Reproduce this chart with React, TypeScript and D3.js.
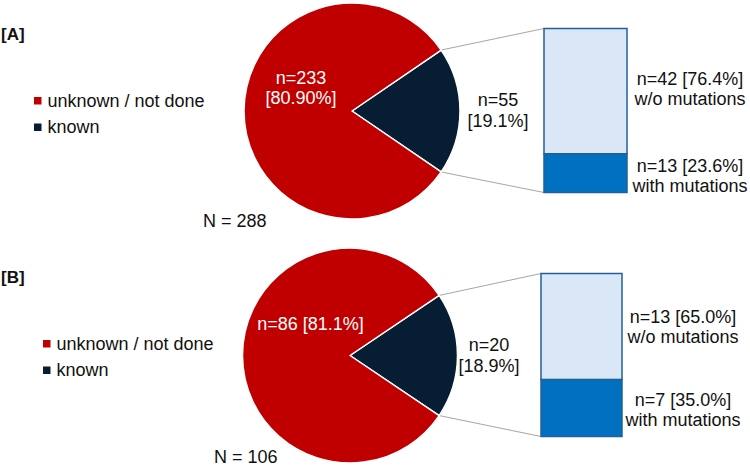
import React from "react";
import * as d3 from "d3";

// counts per panel
const panels = ["[A]", "[B]"];
const unknownN = [233, 86];
const knownN = [55, 20];
const withoutMut = [42, 13];
const withMut = [13, 7];
const unknownLabel = [["n=233", "[80.90%]"], ["n=86 [81.1%]"]];
const knownLabel = [["n=55", "[19.1%]"], ["n=20", "[18.9%]"]];
const withoutLabel = [["n=42 [76.4%]", "w/o mutations"], ["n=13 [65.0%]", "w/o mutations"]];
const withLabel = [["n=13 [23.6%]", "with mutations"], ["n=7 [35.0%]", "with mutations"]];
const totals = ["N = 288", "N = 106"];
const legendNames = ["unknown / not done", "known"];

const RED = "#C00000";
const NAVY = "#061D34";
const LIGHT = "#DAE7F6";
const BLUE = "#0070C0";
const EDGE = "#22609C";

// per-panel placement
const layout = [
  { cx: 352, cy: 111, r: 108, barX: 544, barW: 83, barTop: 28.5, barBot: 192.5, labX: 690, knownX: 498,
    unkX: 301, unkY: 83.5, totX: 203, totY: 227, legX: 34, legY: 106.5, tagY: 40, wOff: -6, mOff: -1 },
  { cx: 350, cy: 355.5, r: 107.5, barX: 541, barW: 81, barTop: 273.5, barBot: 436.5, labX: 683, knownX: 489,
    unkX: 310.5, unkY: 330, totX: 214, totY: 463, legX: 43, legY: 349.5, tagY: 283, wOff: -3, mOff: -1.5 },
];

const font = "'Liberation Sans', Arial, sans-serif";

function Panel({ i }: { i: number }) {
  const L = layout[i];
  const total = unknownN[i] + knownN[i];
  const f = knownN[i] / total;
  // known slice is centred on 3 o'clock
  const start = Math.PI / 2 - Math.PI * f;
  const pie = d3.pie<number>().sort(null).startAngle(start).endAngle(start + 2 * Math.PI);
  const arcs = pie([knownN[i], unknownN[i]]);
  const arc = d3.arc<d3.PieArcDatum<number>>().innerRadius(0).outerRadius(L.r);
  const k = arcs[0];
  const pt = (a: number) => [L.cx + L.r * Math.sin(a), L.cy - L.r * Math.cos(a)];
  const [ux, uy] = pt(k.startAngle);
  const [lx, ly] = pt(k.endAngle);

  const y = d3.scaleLinear().domain([0, knownN[i]]).range([L.barBot, L.barTop]);
  const segs = [
    { v0: 0, v1: withMut[i], fill: BLUE },
    { v0: withMut[i], v1: withMut[i] + withoutMut[i], fill: LIGHT },
  ];
  const midW = (y(withMut[i]) + y(knownN[i])) / 2;
  const midM = (y(0) + y(withMut[i])) / 2;

  return (
    <g fontFamily={font} fontSize={18}>
      <text x={1} y={L.tagY} fontWeight="bold" fontSize={17} fill="#111">{panels[i]}</text>
      {legendNames.map((name, j) => (
        <g key={name}>
          <rect x={L.legX} y={L.legY - 9.5 + j * 26.5} width={7.5} height={7.5} fill={j === 0 ? RED : NAVY} />
          <text x={L.legX + 13.5} y={L.legY + j * 26.5} fill="#111">{name}</text>
        </g>
      ))}
      <line x1={ux} y1={uy} x2={L.barX} y2={L.barTop} stroke="#A6A6A6" strokeWidth={1} />
      <line x1={lx} y1={ly} x2={L.barX} y2={L.barBot} stroke="#A6A6A6" strokeWidth={1} />
      {arcs.map((a, j) => (
        <path key={j} d={arc(a) || ""} transform={`translate(${L.cx},${L.cy})`}
          fill={j === 0 ? NAVY : RED} stroke="#fff" strokeWidth={1.5} strokeLinejoin="round" />
      ))}
      {segs.map((s, j) => (
        <rect key={j} x={L.barX} y={y(s.v1)} width={L.barW} height={y(s.v0) - y(s.v1)}
          fill={s.fill} stroke={EDGE} strokeWidth={1.5} />
      ))}
      <text textAnchor="middle" fill="#fff">
        {unknownLabel[i].map((t, j) => (
          <tspan key={j} x={L.unkX} y={L.unkY + j * 20.5}>{t}</tspan>
        ))}
      </text>
      <text textAnchor="middle" fill="#111">
        {knownLabel[i].map((t, j) => (
          <tspan key={j} x={L.knownX} y={L.cy - 5 + j * 21}>{t}</tspan>
        ))}
      </text>
      <text textAnchor="middle" fill="#111">
        {withoutLabel[i].map((t, j) => (
          <tspan key={j} x={L.labX} y={midW + L.wOff + j * 19.5}>{t}</tspan>
        ))}
      </text>
      <text textAnchor="middle" fill="#111">
        {withLabel[i].map((t, j) => (
          <tspan key={j} x={L.labX} y={midM + L.mOff + j * 19.5}>{t}</tspan>
        ))}
      </text>
      <text x={L.totX} y={L.totY} fill="#111">{totals[i]}</text>
    </g>
  );
}

export default function App() {
  return (
    <svg width={750} height={470} style={{ position: "absolute", left: 0, top: 0, background: "#fff" }}>
      <Panel i={0} />
      <Panel i={1} />
    </svg>
  );
}
